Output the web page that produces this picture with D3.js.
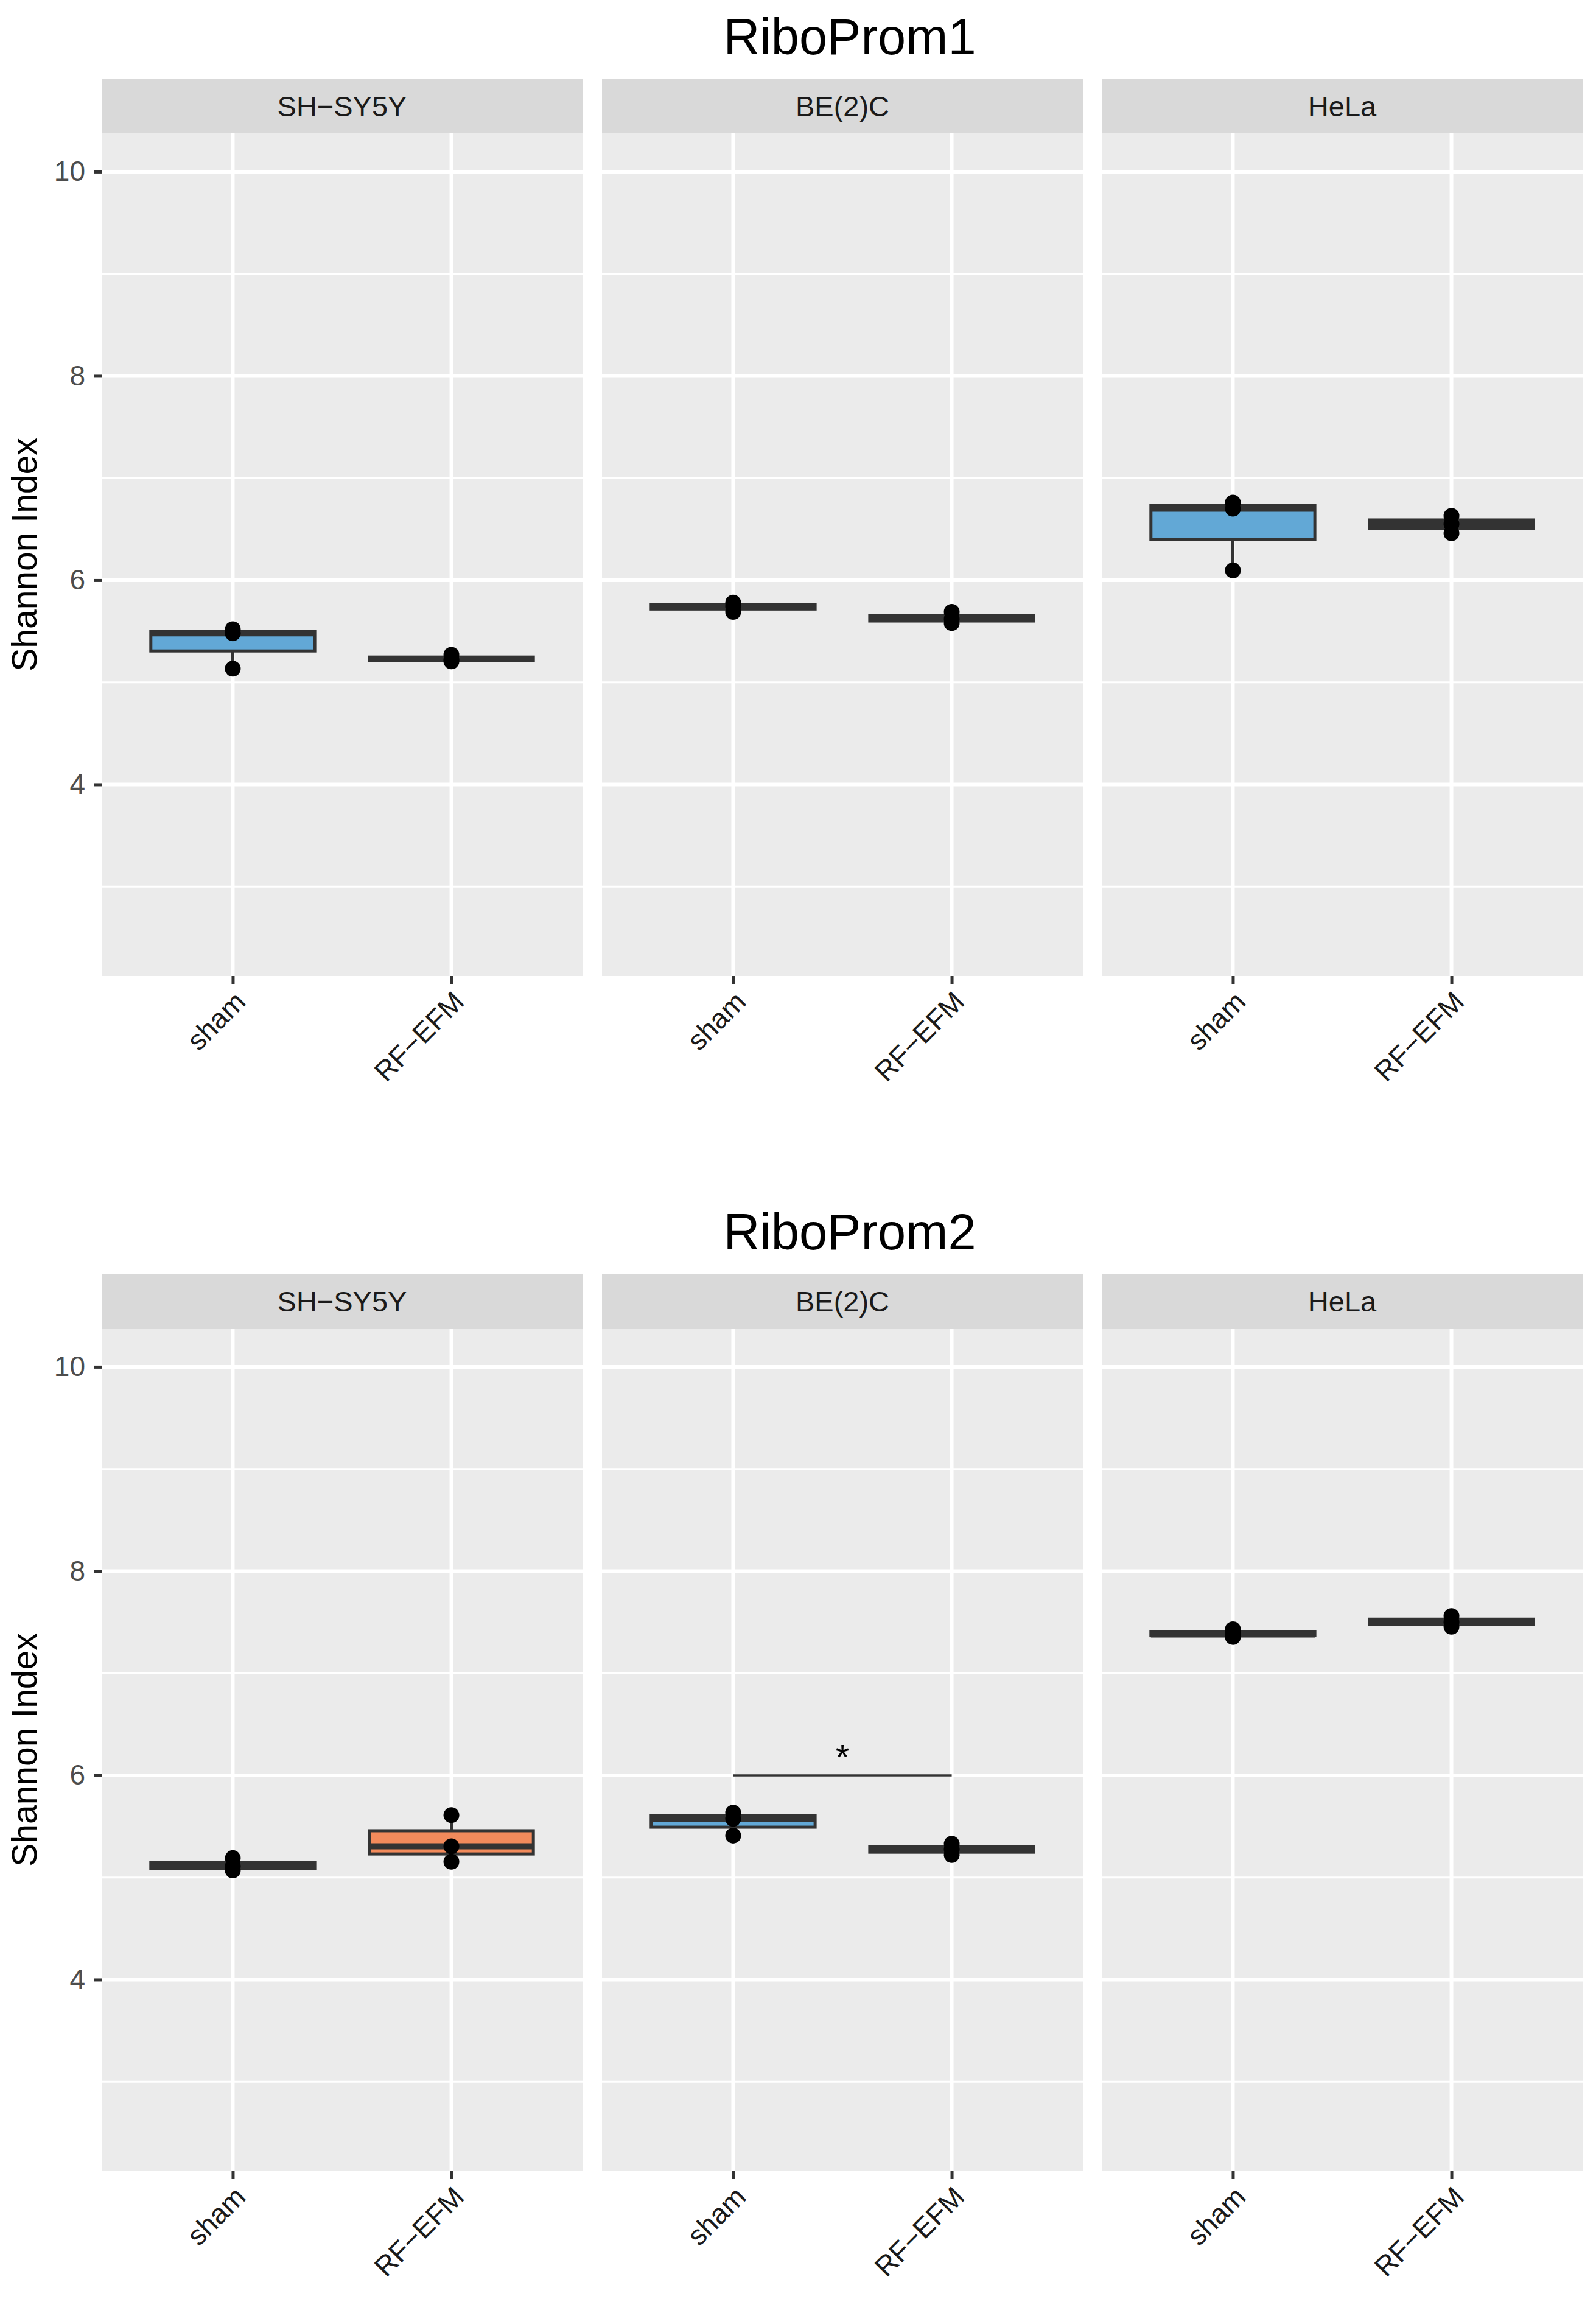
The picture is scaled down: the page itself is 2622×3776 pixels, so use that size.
<!DOCTYPE html>
<html>
<head>
<meta charset="utf-8">
<script src="https://cdn.jsdelivr.net/npm/d3@7"></script>
<style>
  body { margin: 0; background: #fff; }
  text { font-family: "Liberation Sans", Arial, Helvetica, sans-serif; }
</style>
</head>
<body>
<div id="chart"></div>
<script>
// values
const promoters = ["RiboProm1", "RiboProm2"];
const cellLines = ["SH\u2212SY5Y", "BE(2)C", "HeLa"];
const treatments = ["sham", "RF\u2212EFM"];
const yTicks = [4, 6, 8, 10];
const yMinor = [3, 5, 7, 9];
const yLimits = [2.5, 10];

// Shannon index of each replicate, one inner array per cell line
const prom1Sham = [[5.134, 5.48, 5.52], [5.69, 5.745, 5.78], [6.096, 6.70, 6.76]];
const prom1Rf   = [[5.205, 5.225, 5.27], [5.58, 5.62, 5.69], [6.46, 6.55, 6.63]];
const prom2Sham = [[5.07, 5.11, 5.19], [5.41, 5.575, 5.635], [7.355, 7.38, 7.43]];
const prom2Rf   = [[5.155, 5.305, 5.61], [5.22, 5.275, 5.33], [7.455, 7.5, 7.56]];

// significance brackets
const sigPromoter = [1];
const sigCell = [1];
const sigY = [6.0];
const sigLabel = ["*"];

const fills = ["#62A8D6", "#F28A5B"];
const series = [[prom1Sham, prom1Rf], [prom2Sham, prom2Rf]];

// layout
const width = 2622, height = 3776;
const rowTop = [130, 2093],          // top of the strips in each row
    stripH = 89,
    panelH = 1384,
    panelLeft = [167, 989, 1810],
    panelW = 790;

const span = yLimits[1] - yLimits[0];
const y = d3.scaleLinear()
    .domain([yLimits[0] - 0.05 * span, yLimits[1] + 0.05 * span])
    .range([panelH, 0]);
const x = d3.scalePoint()
    .domain(treatments)
    .range([0, panelW])
    .padding(0.6);
const boxW = x.step() * 0.75;

function boxStats(vals) {
    let s = vals.slice().sort(d3.ascending);
    let q1 = d3.quantile(s, 0.25), med = d3.quantile(s, 0.5), q3 = d3.quantile(s, 0.75);
    let iqr = q3 - q1;
    return {
        q1, med, q3,
        lo: d3.min(s.filter(v => v >= q1 - 1.5 * iqr)),
        hi: d3.max(s.filter(v => v <= q3 + 1.5 * iqr))
    };
}

let svg = d3.select("#chart").append("svg")
    .attr("width", width)
    .attr("height", height);

promoters.forEach((prom, r) => {
    let top = rowTop[r] + stripH;

    svg.append("text")
        .attr("x", 1396)
        .attr("y", rowTop[r] - 41)
        .attr("text-anchor", "middle")
        .attr("font-size", 83)
        .attr("fill", "#000")
        .text(prom);

    svg.append("text")
        .attr("transform", `translate(60,${top + panelH / 2}) rotate(-90)`)
        .attr("text-anchor", "middle")
        .attr("font-size", 57)
        .attr("fill", "#000")
        .text("Shannon Index");

    cellLines.forEach((cell, c) => {
        let g = svg.append("g")
            .attr("transform", `translate(${panelLeft[c]},${top})`);

        // strip
        g.append("rect")
            .attr("y", -stripH)
            .attr("width", panelW)
            .attr("height", stripH)
            .attr("fill", "#D9D9D9");
        g.append("text")
            .attr("x", panelW / 2)
            .attr("y", -stripH / 2)
            .attr("dy", "0.36em")
            .attr("text-anchor", "middle")
            .attr("font-size", 47)
            .attr("fill", "#1A1A1A")
            .text(cell);

        // panel and grid
        g.append("rect")
            .attr("width", panelW)
            .attr("height", panelH)
            .attr("fill", "#EBEBEB");
        g.selectAll(".minor").data(yMinor).join("line")
            .attr("x2", panelW)
            .attr("y1", d => y(d)).attr("y2", d => y(d))
            .attr("stroke", "#fff").attr("stroke-width", 3);
        g.selectAll(".major").data(yTicks).join("line")
            .attr("x2", panelW)
            .attr("y1", d => y(d)).attr("y2", d => y(d))
            .attr("stroke", "#fff").attr("stroke-width", 6);
        g.selectAll(".vgrid").data(treatments).join("line")
            .attr("x1", d => x(d)).attr("x2", d => x(d))
            .attr("y2", panelH)
            .attr("stroke", "#fff").attr("stroke-width", 6);

        // boxplots
        treatments.forEach((t, k) => {
            let vals = series[r][k][c];
            let st = boxStats(vals);
            let cx = x(t);
            let b = g.append("g");
            b.append("line")
                .attr("x1", cx).attr("x2", cx)
                .attr("y1", y(st.hi)).attr("y2", y(st.q3))
                .attr("stroke", "#333").attr("stroke-width", 5);
            b.append("line")
                .attr("x1", cx).attr("x2", cx)
                .attr("y1", y(st.q1)).attr("y2", y(st.lo))
                .attr("stroke", "#333").attr("stroke-width", 5);
            b.append("rect")
                .attr("x", cx - boxW / 2)
                .attr("y", y(st.q3))
                .attr("width", boxW)
                .attr("height", y(st.q1) - y(st.q3))
                .attr("fill", fills[k])
                .attr("stroke", "#333").attr("stroke-width", 5);
            b.append("line")
                .attr("x1", cx - boxW / 2).attr("x2", cx + boxW / 2)
                .attr("y1", y(st.med)).attr("y2", y(st.med))
                .attr("stroke", "#333").attr("stroke-width", 10);
            b.selectAll("circle").data(vals).join("circle")
                .attr("cx", cx)
                .attr("cy", d => y(d))
                .attr("r", 13)
                .attr("fill", "#000");
        });

        // x axis
        let xa = g.append("g")
            .attr("transform", `translate(0,${panelH})`)
            .call(d3.axisBottom(x).tickSize(13).tickSizeOuter(0));
        xa.select(".domain").remove();
        xa.selectAll(".tick line").attr("stroke", "#333").attr("stroke-width", 5);
        xa.selectAll(".tick text")
            .attr("y", 0)
            .attr("dy", "0.71em")
            .attr("transform", "translate(0,22) rotate(-45)")
            .attr("text-anchor", "end")
            .attr("font-size", 46)
            .attr("fill", "#1A1A1A");

        // y axis on the first panel only
        if (c === 0) {
            let ya = g.append("g")
                .call(d3.axisLeft(y).tickValues(yTicks).tickSize(13).tickPadding(14));
            ya.select(".domain").remove();
            ya.selectAll(".tick line").attr("stroke", "#333").attr("stroke-width", 5);
            ya.selectAll(".tick text")
                .attr("font-size", 46)
                .attr("fill", "#4D4D4D");
        }

        // significance bracket
        sigPromoter.forEach((p, i) => {
            if (p !== r || sigCell[i] !== c) return;
            g.append("line")
                .attr("x1", x(treatments[0])).attr("x2", x(treatments[1]))
                .attr("y1", y(sigY[i])).attr("y2", y(sigY[i]))
                .attr("stroke", "#333").attr("stroke-width", 3.5);
            g.append("text")
                .attr("x", (x(treatments[0]) + x(treatments[1])) / 2)
                .attr("y", y(sigY[i]) - 10)
                .attr("text-anchor", "middle")
                .attr("font-size", 58)
                .attr("fill", "#000")
                .text(sigLabel[i]);
        });
    });
});
</script>
</body>
</html>
